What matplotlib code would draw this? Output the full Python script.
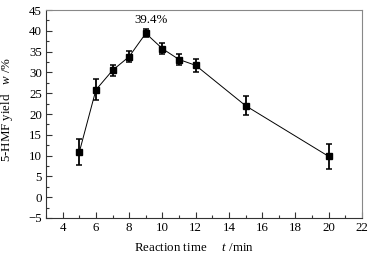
import matplotlib
matplotlib.use("Agg")
import matplotlib.pyplot as plt
from matplotlib.ticker import MultipleLocator

plt.rcParams['font.family'] = ['Liberation Serif', 'DejaVu Serif']
plt.rcParams['mathtext.fontset'] = 'custom'
plt.rcParams['mathtext.rm'] = 'Liberation Serif'
plt.rcParams['mathtext.it'] = 'Liberation Serif:italic'

# reaction time (min) vs 5-HMF yield (%)
time_min = [5, 6, 7, 8, 9, 10, 11, 12, 15, 20]
yield_pct = [10.8, 25.8, 30.5, 33.8, 39.4, 35.7, 33.1, 31.7, 22.0, 9.8]
yield_err = [3.1, 2.5, 1.4, 1.3, 1.0, 1.3, 1.4, 1.5, 2.3, 3.1]

fs = 9.3
fig = plt.figure(figsize=(3.75, 2.57), dpi=100)
ax = fig.add_axes([0.1227, 0.1518, 0.8426, 0.8092])

ax.errorbar(time_min, yield_pct, yerr=yield_err, color='black', lw=0.7,
            marker='s', ms=4, elinewidth=1.3, capsize=2.5, capthick=1.1)
ax.annotate('39.4%', (9, 39.4), xytext=(4, 5), textcoords='offset points',
            ha='center', va='bottom', fontsize=fs)

ax.set_xlim(3, 22)
ax.set_ylim(-5, 45)
ax.xaxis.set_major_locator(MultipleLocator(2))
ax.xaxis.set_minor_locator(MultipleLocator(1))
ax.yaxis.set_major_locator(MultipleLocator(5))
ax.yaxis.set_minor_locator(MultipleLocator(2.5))
ax.tick_params(which='both', direction='in', top=False, right=False,
               labelsize=fs, width=0.8, color='#333333', pad=3)
ax.tick_params(which='major', length=4)
ax.tick_params(which='minor', length=2)
for s in ax.spines.values():
    s.set_color('#888888')
    s.set_linewidth(0.8)
ax.spines['left'].set_color('#333333')
ax.spines['bottom'].set_color('#333333')

ax.set_xlabel(r'Reaction time     $\mathit{t}$ /min', fontsize=fs)
ax.set_ylabel(r'5-HMF yield   $\mathit{w}$ /%', fontsize=fs)
ax.xaxis.set_label_coords(0.468, -0.115)
ax.yaxis.set_label_coords(-0.098, 0.52)

fig.savefig('out.png', dpi=100)
